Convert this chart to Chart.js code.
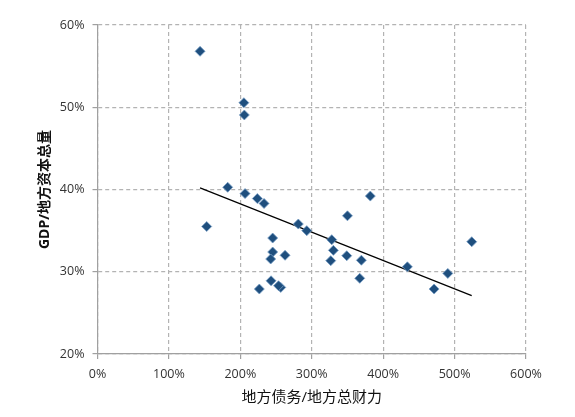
<!DOCTYPE html>
<html>
<head>
<meta charset="utf-8">
<script src="https://cdn.jsdelivr.net/npm/chart.js@4"></script>
<style>
  html, body { margin: 0; padding: 0; background: #fff; }
  #wrap { width: 575px; height: 417px; position: relative; }
</style>
</head>
<body>
<div id="wrap"><canvas id="chart"></canvas></div>
<script>
// debt / fiscal capacity (%), GDP / capital stock (%)
const debtRatio = [143.6, 205, 205.6, 182.3, 206.6, 223.8, 233.2, 152.9, 281.2, 293,
  350, 328, 245.3, 330.3, 245.3, 262.6, 242.5, 349, 326.6, 369.5,
  382, 367.2, 243, 226.6, 256.6, 253.5, 433.9, 490.5, 471.3, 524];
const gdpRatio = [56.8, 50.55, 49.06, 40.27, 39.5, 38.9, 38.3, 35.5, 35.8, 35.0,
  36.8, 33.9, 34.1, 32.6, 32.4, 32.0, 31.55, 31.95, 31.35, 31.4,
  39.2, 29.2, 28.9, 27.9, 28.1, 28.3, 30.6, 29.8, 27.9, 33.65];
const trendX = [143.6, 524];
const trendY = [40.2, 27.1];
const xTitle = '地方债务/地方总财力';
const yTitle = 'GDP/地方资本总量';

const fontFamily = '"Open Sans", "Noto Sans CJK SC", sans-serif';

const points = debtRatio.map((x, i) => ({ x: x, y: gdpRatio[i] }));
const trend = trendX.map((x, i) => ({ x: x, y: trendY[i] }));

const gridOpts = {
  color: '#b3b3b3',
  tickColor: '#a0a0a0',
  tickLength: 5,
  lineWidth: 1.2,
};

new Chart(document.getElementById('chart'), {
  type: 'scatter',
  data: {
    datasets: [
      {
        data: points,
        pointStyle: 'rectRot',
        pointRadius: 5,
        backgroundColor: '#1f4f7e',
        borderColor: '#7a9fc6',
        borderWidth: 0.8,
      },
      {
        type: 'line',
        data: trend,
        borderColor: '#000',
        borderWidth: 1.2,
        pointRadius: 0,
        fill: false,
      },
    ],
  },
  options: {
    responsive: true,
    maintainAspectRatio: false,
    animation: false,
    layout: {
      padding: { top: 25, right: 49, left: 37, bottom: 10 },
    },
    scales: {
      x: {
        type: 'linear',
        min: 0,
        max: 600,
        afterFit: (scale) => { scale.height = 53; },
        ticks: {
          stepSize: 100,
          color: '#333',
          padding: 8,
          font: { family: fontFamily, size: 12.5 },
          callback: (value) => value + '%',
        },
        grid: gridOpts,
        border: { color: '#a0a0a0', width: 1.2, dash: [4, 3] },
        title: {
          display: true,
          text: xTitle,
          color: '#111',
          padding: { top: 2, bottom: 0 },
          font: { family: fontFamily, size: 15 },
        },
      },
      y: {
        type: 'linear',
        min: 20,
        max: 60,
        afterFit: (scale) => { scale.width = 60.5; },
        ticks: {
          stepSize: 10,
          color: '#333',
          padding: 8,
          font: { family: fontFamily, size: 12.5 },
          callback: (value) => value + '%',
        },
        grid: gridOpts,
        border: { color: '#a0a0a0', width: 1.2, dash: [4, 3] },
        title: {
          display: true,
          text: yTitle,
          color: '#111',
          padding: { top: 0, bottom: 4 },
          font: { family: fontFamily, size: 14, weight: 'bold' },
        },
      },
    },
    plugins: {
      legend: { display: false },
      tooltip: { enabled: false },
    },
  },
});
</script>
</body>
</html>
